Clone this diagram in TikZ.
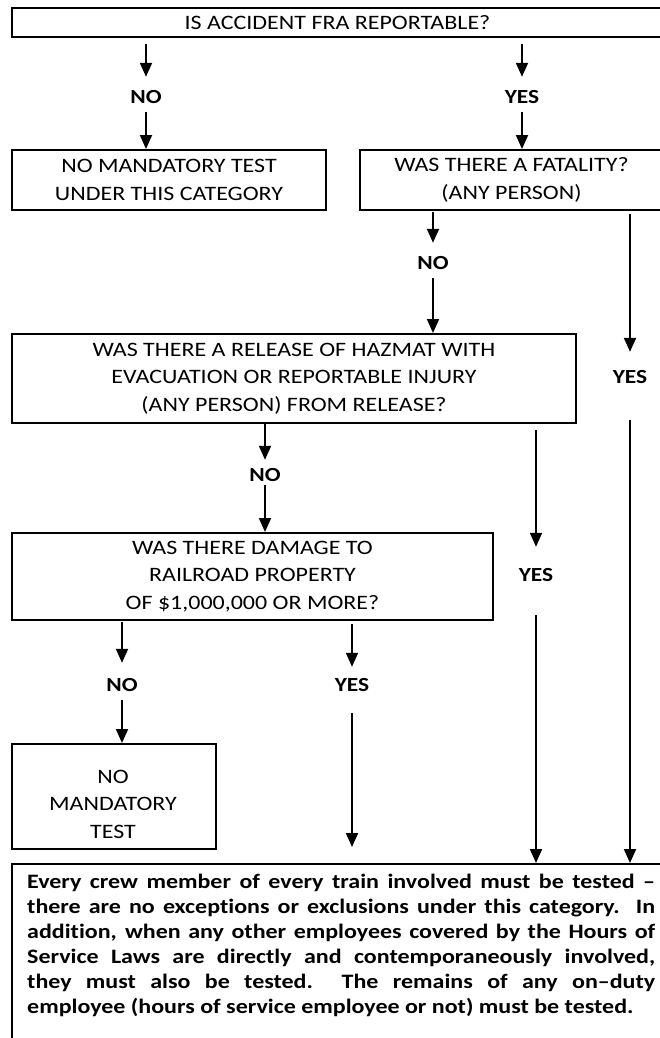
\documentclass[tikz,border=0pt]{standalone}
\usepackage{fontspec}
\setmainfont[FakeStretch=1.17, Ligatures=NoCommon]{Carlito}
\usetikzlibrary{arrows.meta}
\begin{document}
\begin{tikzpicture}[x=1pt,y=-1pt,
  box/.style={draw, line width=2pt, inner sep=0pt, anchor=north west, align=center, font=\fontsize{20.5}{27.5}\selectfont},
  boxtext/.style={inner sep=0pt, align=center, font=\fontsize{20.5}{27.5}\selectfont},
  lbl/.style={inner sep=0pt, text height=13pt, text depth=0pt, font=\bfseries\fontsize{20}{24}\selectfont},
  arr/.style={line width=2pt, -{Triangle[width=12pt,length=14pt]}},
  finaltext/.style={anchor=base west, inner sep=0pt, font=\bfseries\fontsize{20.5}{25}\selectfont}]
\useasboundingbox (0,0) rectangle (660,1038);
% boxes
\node[box, minimum width=651pt, minimum height=29pt] (top) at (11,7) {IS ACCIDENT FRA REPORTABLE?};
\node[box, minimum width=314pt, minimum height=60pt] (nmt) at (11,149) {NO MANDATORY TEST\\UNDER THIS CATEGORY};
\node[box, minimum width=303pt, minimum height=60pt] (fat) at (359,149) {WAS THERE A FATALITY?\\(ANY PERSON)};
\node[box, minimum width=564pt, minimum height=89pt] (haz) at (11,333) {WAS THERE A RELEASE OF HAZMAT WITH\\EVACUATION OR REPORTABLE INJURY\\(ANY PERSON) FROM RELEASE?};
\node[box, minimum width=481pt, minimum height=87pt] (dmg) at (11,532) {WAS THERE DAMAGE TO\\RAILROAD PROPERTY\\OF \$1,000,000 OR MORE?};
\node[box, minimum width=204pt, minimum height=105pt] (nm) at (11,743) {};
\node[boxtext] (nmtxt) at (113,804) {NO\\MANDATORY\\TEST};
\node[box, minimum width=700pt, minimum height=220pt] (fin) at (11,863) {};
\node[finaltext] (fintxt) at (27,888) {\parbox[t]{628pt}{\hyphenpenalty=10000\tolerance=10000\emergencystretch=20pt
Every crew member of every train involved must be tested –\linebreak
there are no exceptions or exclusions under this category.\ \ In\linebreak
addition, when any other employees covered by the Hours of\linebreak
Service Laws are directly and contemporaneously involved,\linebreak
they must also be tested.\ \ The remains of any on–duty\linebreak
employee (hours of service employee or not) must be tested.}};
% labels
\node[lbl] (n1) at (146,97) {NO};
\node[lbl] (y1) at (522,97) {YES};
\node[lbl] (n2) at (433,263) {NO};
\node[lbl] (y2) at (630,377) {YES};
\node[lbl] (n3) at (265,475) {NO};
\node[lbl] (y3) at (536,575) {YES};
\node[lbl] (n4) at (122,685) {NO};
\node[lbl] (y4) at (352,685) {YES};
\coordinate (y4end) at (352,847);
% connectors
\draw[arr, shorten <=6pt, shorten >=13.5pt] (n1 |- top.south) -- (n1.north);
\draw[arr, shorten <=8.5pt] (n1.south) -- (n1 |- nmt.north);
\draw[arr, shorten <=6pt, shorten >=13.5pt] (y1 |- top.south) -- (y1.north);
\draw[arr, shorten <=8.5pt] (y1.south) -- (y1 |- fat.north);
\draw[arr, shorten <=1pt, shorten >=13.5pt] (n2 |- fat.south) -- (n2.north);
\draw[arr, shorten <=8.5pt] (n2.south) -- (n2 |- haz.north);
\draw[arr, shorten <=3pt, shorten >=18.5pt] (y2 |- fat.south) -- (y2.north);
\draw[arr, shorten <=36.5pt] (y2.south) -- (y2 |- fin.north);
\draw[arr, shorten >=8.5pt] (n3 |- haz.south) -- (n3.north);
\draw[arr, shorten <=3.5pt] (n3.south) -- (n3 |- dmg.north);
\draw[arr, shorten <=6pt, shorten >=21.5pt] (y3 |- haz.south) -- (y3.north);
\draw[arr, shorten <=33.5pt] (y3.south) -- (y3 |- fin.north);
\draw[arr, shorten <=1pt, shorten >=15.5pt] (n4 |- dmg.south) -- (n4.north);
\draw[arr, shorten <=8.5pt] (n4.south) -- (n4 |- nm.north);
\draw[arr, shorten <=3pt, shorten >=11.5pt] (y4 |- dmg.south) -- (y4.north);
\draw[arr, shorten <=21.5pt] (y4.south) -- (y4end);
\end{tikzpicture}
\end{document}
